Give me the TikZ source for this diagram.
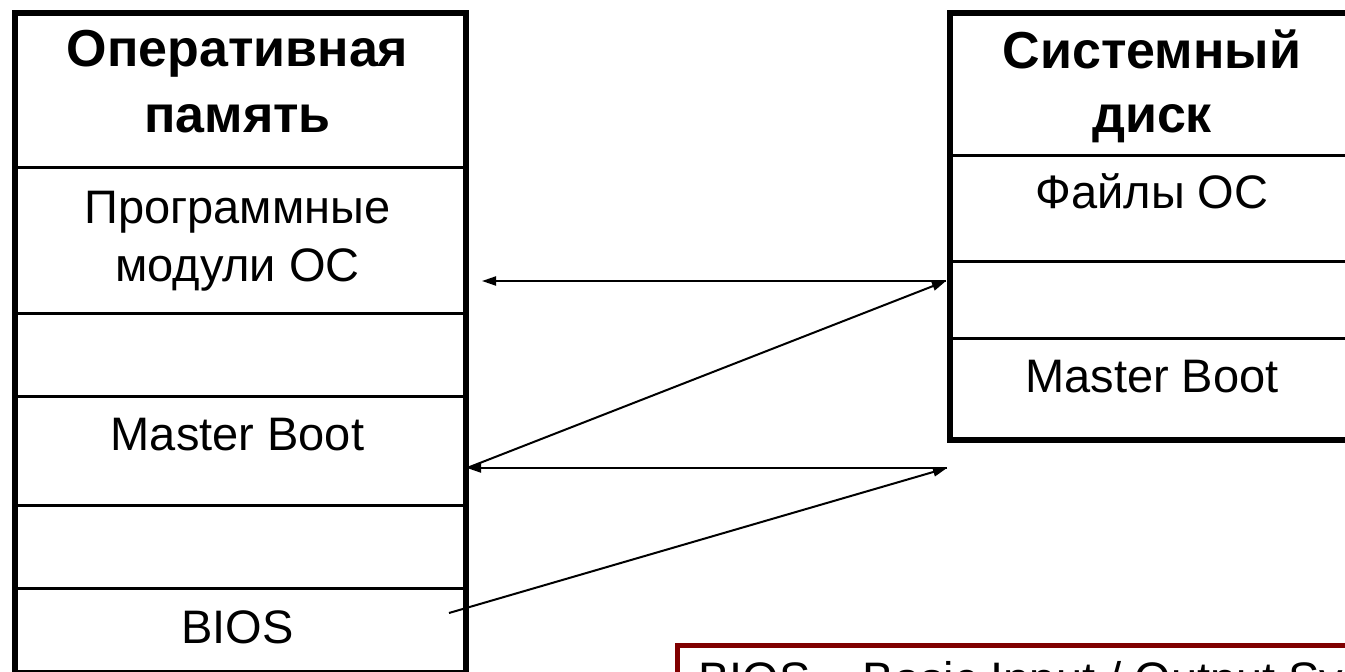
\documentclass[tikz,border=0pt]{standalone}
\usepackage{fontspec}
\setmainfont{Liberation Sans}
\usetikzlibrary{arrows.meta}
\definecolor{noteRed}{HTML}{800000}
\begin{document}
\begin{tikzpicture}[x=1pt,y=-1pt,
  outerbox/.style={draw, line width=6pt, inner sep=0pt, anchor=north west},
  divider/.style={line width=3pt},
  flow/.style={line width=2pt, -{Triangle[length=14pt,width=9pt]}},
  bodytext/.style={anchor=base, inner sep=0pt, font=\fontsize{47}{56}\selectfont},
  headtext/.style={anchor=base, inner sep=0pt, font=\fontsize{52}{62}\selectfont\bfseries},
]
\useasboundingbox (0,0) rectangle (1345,672);
\clip (0,0) rectangle (1345,672);
\fill[white] (0,0) rectangle (1345,672);

% RAM column
\node[outerbox, minimum width=451pt, minimum height=660pt] (ram) at (12,10) {};
\draw[divider] (12,167) -- (463,167);
\draw[divider] (12,313) -- (463,313);
\draw[divider] (12,396) -- (463,396);
\draw[divider] (12,505) -- (463,505);
\draw[divider] (12,588) -- (463,588);

\node[headtext] (ramT1) at (237.5,66) {Оперативная};
\node[headtext] (ramT2) at (237.5,132) {память};
\node[bodytext] (ramM1) at (237.5,223) {Программные};
\node[bodytext] (ramM2) at (237.5,281) {модули ОС};
\node[bodytext] (ramMB) at (237.5,450) {Master Boot};
\node[bodytext] (ramBIOS) at (237.5,643) {BIOS};

% Disk column
\node[outerbox, minimum width=413pt, minimum height=427pt] (disk) at (947,10) {};
\draw[divider] (947,155) -- (1360,155);
\draw[divider] (947,261) -- (1360,261);
\draw[divider] (947,338) -- (1360,338);

\node[headtext] (diskT1) at (1152,68) {Системный};
\node[headtext] (diskT2) at (1152,132) {диск};
\node[bodytext] (diskF) at (1152,208) {Файлы ОС};
\node[bodytext] (diskMB) at (1152,392) {Master Boot};

% Arrow end points
\coordinate (diskOS) at (946,281);
\coordinate (ramOS) at (482,281);
\coordinate (ramMBin) at (467,468);
\coordinate (diskMBout) at (947,468);
\coordinate (biosOut) at (449,613);

\draw[flow] (diskOS) -- (ramOS);
\draw[flow] (ramMBin) -- (diskOS);
\draw[flow] (diskMBout) -- (ramMBin);
\draw[flow] (biosOut) -- (diskMBout);

% Note box
\node[draw=noteRed, line width=5pt, fill=white, inner sep=0pt, anchor=north west,
      minimum width=720pt, minimum height=80pt] (note) at (675,643) {};
\node[bodytext, anchor=base west] (noteText) at (698,695) {BIOS – Basic Input / Output System};
\end{tikzpicture}
\end{document}
